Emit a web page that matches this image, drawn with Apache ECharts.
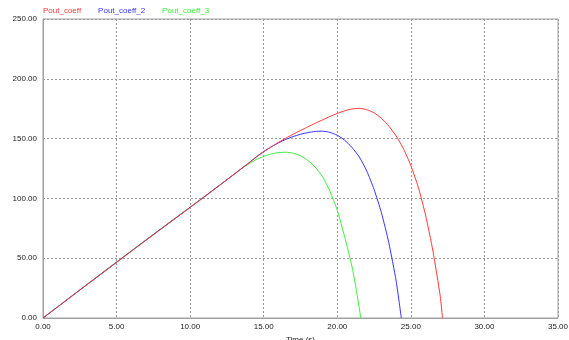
<!DOCTYPE html>
<html><head><meta charset="utf-8">
<script src="https://cdn.jsdelivr.net/npm/echarts@6/dist/echarts.min.js"></script>
<style>html,body{margin:0;padding:0;background:#fff}#c{width:569px;height:340px}</style>
</head><body><div id="c"></div>
<script>
const seriesNames = ['Pout_coeff', 'Pout_coeff_2', 'Pout_coeff_3'];
const xTicks = [0, 5, 10, 15, 20, 25, 30, 35];
const yTicks = [0, 50, 100, 150, 200, 250];

const t1 = [0, 1, 2, 3, 4, 5, 6, 7, 8, 9, 10, 11, 12, 13, 13.5, 14, 14.5, 15, 15.5, 16, 16.5, 17, 17.5, 18, 18.5, 19, 19.5, 20, 20.5, 21, 21.5, 22, 22.5, 23, 23.5, 24, 24.5, 25, 25.5, 26, 26.5, 27, 27.15];
const v1 = [0, 9.3, 18.6, 27.9, 37.2, 46.5, 55.8, 65, 74.2, 83.3, 92.4, 101.6, 110.9, 120.2, 125, 129.6, 134.5, 139, 143, 146.8, 150.3, 153.6, 156.8, 159.8, 162.8, 165.7, 168.5, 171, 173.2, 174.8, 175.3, 174.2, 171.5, 167, 160.5, 152.2, 141.5, 127.5, 109.5, 86, 56, 18, 0];

const t2 = [0, 1, 2, 3, 4, 5, 6, 7, 8, 9, 10, 11, 12, 13, 13.5, 14, 14.5, 15, 15.5, 16, 16.5, 17, 17.5, 18, 18.5, 19, 19.5, 20, 20.5, 21, 21.5, 22, 22.5, 23, 23.5, 24, 24.35];
const v2 = [0, 9.35, 18.7, 28, 37.3, 46.6, 55.9, 65.1, 74.3, 83.4, 92.5, 101.7, 111, 120.3, 125.1, 129.8, 134.8, 139.2, 143, 146.4, 149.3, 151.7, 153.6, 155, 156, 156.2, 155.2, 152.8, 148.6, 142.6, 134.6, 123, 107.5, 88, 63, 31, 0];

const t3 = [0, 1, 2, 3, 4, 5, 6, 7, 8, 9, 10, 11, 12, 13, 13.5, 14, 14.5, 15, 15.5, 16, 16.5, 17, 17.5, 18, 18.5, 19, 19.5, 20, 20.5, 21, 21.3, 21.6];
const v3 = [0, 9.5, 18.9, 28.3, 37.6, 46.9, 56.2, 65.4, 74.6, 83.7, 92.8, 101.9, 111, 120.4, 125, 129, 132.5, 135.2, 137.1, 138.3, 138.6, 137.8, 135.6, 131.8, 126.2, 118.2, 106, 90, 68, 43, 23, 0];

const colors = ['#ff3838', '#3434ff', '#3cee3c'];
const pair = (t, v) => t.map((x, i) => [x, v[i]]);
const datasets = [pair(t1, v1), pair(t2, v2), pair(t3, v3)];

const chart = echarts.init(document.getElementById('c'), null, {renderer: 'canvas'});
const fontFamily = 'Liberation Sans, Arial, sans-serif';
chart.setOption({
  animation: false,
  backgroundColor: '#fff',
  grid: {left: 43, top: 19, right: 11, bottom: 22, outerBoundsMode: 'none', containLabel: false, show: true, borderColor: '#a0a0a0', borderWidth: 1},
  legend: {
    left: 33, top: 2, itemGap: 12, itemWidth: 0, itemHeight: 0, icon: 'none',
    textStyle: {fontSize: 8, fontFamily},
    data: seriesNames.map((n, i) => ({name: n, textStyle: {color: colors[i], fontSize: 8}}))
  },
  xAxis: {
    type: 'value', min: xTicks[0], max: xTicks[xTicks.length - 1], interval: 5,
    name: 'Time (s)', nameLocation: 'middle', nameGap: 15,
    nameTextStyle: {fontSize: 8, color: '#222', fontFamily},
    axisLine: {lineStyle: {color: '#a0a0a0'}},
    axisTick: {show: false},
    axisLabel: {fontSize: 8, color: '#222', fontFamily, margin: 5, formatter: v => v.toFixed(2)},
    splitLine: {show: true, lineStyle: {color: '#999', type: [2, 2]}}
  },
  yAxis: {
    type: 'value', min: yTicks[0], max: yTicks[yTicks.length - 1], interval: 50,
    axisLine: {show: true, lineStyle: {color: '#a0a0a0'}},
    axisTick: {show: false},
    axisLabel: {fontSize: 8, color: '#222', fontFamily, margin: 6, formatter: v => v.toFixed(2)},
    splitLine: {show: true, lineStyle: {color: '#999', type: [2, 2]}}
  },
  series: seriesNames.map((n, i) => ({
    name: n, type: 'line', data: datasets[i], showSymbol: false, smooth: 0.2,
    lineStyle: {color: colors[i], width: 1}, itemStyle: {color: colors[i]}, z: 3 - i
  }))
});
</script></body></html>
